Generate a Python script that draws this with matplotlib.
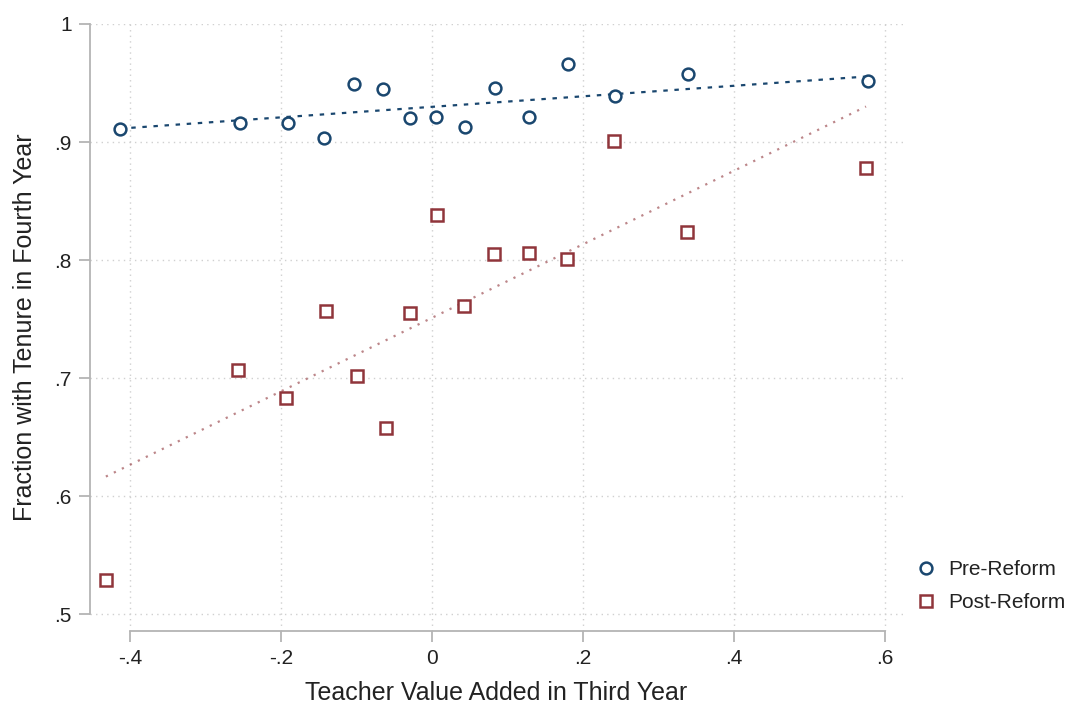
import numpy as np
import matplotlib
matplotlib.use("Agg")
import matplotlib.pyplot as plt

plt.rcParams['font.family'] = ['Liberation Sans', 'DejaVu Sans']

# binned scatter, teacher value added vs tenure share
pre_x = [-0.413, -0.254, -0.191, -0.143, -0.103, -0.065, -0.029, 0.005,
         0.044, 0.083, 0.128, 0.180, 0.242, 0.339, 0.577]
pre_y = [0.911, 0.916, 0.916, 0.903, 0.949, 0.945, 0.920, 0.921,
         0.913, 0.946, 0.921, 0.966, 0.939, 0.958, 0.952]

post_x = [-0.432, -0.257, -0.193, -0.140, -0.099, -0.061, -0.029, 0.007,
          0.042, 0.082, 0.128, 0.179, 0.241, 0.338, 0.575]
post_y = [0.529, 0.707, 0.683, 0.757, 0.702, 0.658, 0.755, 0.838,
          0.761, 0.805, 0.806, 0.801, 0.901, 0.824, 0.878]

# linear fits (estimated on underlying data)
pre_fit = (0.0446, 0.9298)    # slope, intercept
post_fit = (0.3114, 0.7510)

x_ticks = [-0.4, -0.2, 0, 0.2, 0.4, 0.6]
x_labels = ['-.4', '-.2', '0', '.2', '.4', '.6']
y_ticks = [0.5, 0.6, 0.7, 0.8, 0.9, 1.0]
y_labels = ['.5', '.6', '.7', '.8', '.9', '1']

navy = '#1a476f'
maroon = '#90353b'
grey = '#b4b4b4'
txt = '#222222'

fig = plt.figure(figsize=(10.71, 7.06), dpi=100)
ax = fig.add_axes([90 / 1071, 75 / 706, 813 / 1071, 607 / 706])

for xs, (b, k), c, ls, a in [(pre_x, pre_fit, navy, (0, (2, 3)), 1.0),
                             (post_x, post_fit, maroon, (0, (1, 3)), 0.6)]:
    fx = np.array([min(xs), max(xs)])
    ax.plot(fx, k + b * fx, color=c, ls=ls, lw=1.6, alpha=a, zorder=2)

ax.plot(pre_x, pre_y, 'o', ms=8.5, mfc='white', mec=navy, mew=1.8,
        label='Pre-Reform', zorder=3)
ax.plot(post_x, post_y, 's', ms=9, mfc='white', mec=maroon, mew=1.8,
        label='Post-Reform', zorder=3)

ax.set_xlim(-0.453, 0.624)
ax.set_ylim(0.4856, 1.0)
ax.set_xticks(x_ticks)
ax.set_xticklabels(x_labels)
ax.set_yticks(y_ticks)
ax.set_yticklabels(y_labels)
ax.grid(True, color='#d0d0d0', ls=(0, (1, 3)), lw=1)

for s in ['top', 'right']:
    ax.spines[s].set_visible(False)
ax.spines['left'].set_bounds(0.5, 1.0)
ax.spines['bottom'].set_bounds(-0.4, 0.6)
for s in ['left', 'bottom']:
    ax.spines[s].set_color(grey)
    ax.spines[s].set_linewidth(1.3)
ax.tick_params(length=8, width=1.3, color=grey, labelsize=15,
               labelcolor=txt, pad=5)

ax.set_xlabel('Teacher Value Added in Third Year', fontsize=18,
              color=txt, labelpad=9)
ax.set_ylabel('Fraction with Tenure in Fourth Year', fontsize=18,
              color=txt, labelpad=13)

fig.legend(loc='upper left', bbox_to_anchor=(900 / 1071, 1 - 550 / 706),
           frameon=False, fontsize=15, handletextpad=0.3, labelspacing=0.65,
           borderpad=0, handlelength=1.5, labelcolor=txt)

plt.savefig('out.png', dpi=100)
